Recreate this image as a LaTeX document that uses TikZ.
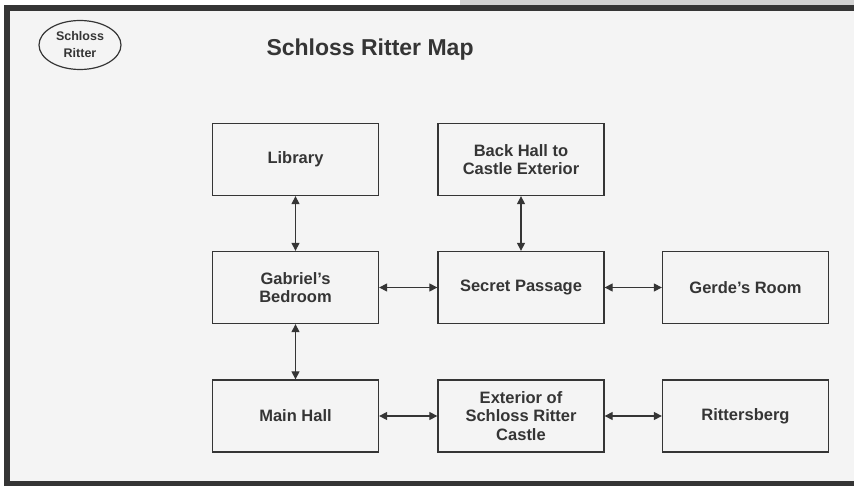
\documentclass[tikz,border=0pt]{standalone}
\usepackage{fontspec}
\setmainfont{Liberation Sans}
\usepackage{tikz}
\usetikzlibrary{shapes.geometric,arrows.meta}
\definecolor{ink}{HTML}{353535}
\definecolor{paper}{HTML}{F4F4F4}
\newcommand{\roomwd}{166pt}
\newcommand{\roomht}{72pt}

\begin{document}
\begin{tikzpicture}[x=1pt,y=-1pt,
    room/.style={draw=ink, line width=1.3pt, rectangle, minimum width=\roomwd, minimum height=\roomht,
      inner sep=0pt, align=center, text=ink, font=\fontsize{16.5}{18.5}\selectfont\bfseries},
    link/.style={draw=ink, line width=1.2pt, {Triangle[length=8pt,width=8pt]}-{Triangle[length=8pt,width=8pt]}}]

    \useasboundingbox (0,0) rectangle (854,486);
    \fill[white] (0,0) rectangle (854,486);
    \fill[gray!35] (460,0) rectangle (854,5);
    \fill[paper] (7,8) rectangle (854,484);
    \draw[ink, line width=6pt] (854,8) -- (7,8) -- (7,484) -- (854,484);

      \node (castle) at (80,45) [draw=ink, line width=1.2pt, ellipse, minimum width=82pt, minimum height=49pt,
        inner sep=0pt, align=center, text=ink, font=\fontsize{12.5}{17}\selectfont\bfseries] {Schloss\\Ritter};
      \node (title) at (263,56) [anchor=base west, text=ink, font=\fontsize{23}{26}\selectfont\bfseries] {Schloss Ritter Map};

      \node (lib)   at (295.5,159.5) [room] {Library};
      \node (back)  at (521,159.5)   [room] {Back Hall to\\Castle Exterior};
      \node (gab)   at (295.5,287.5) [room] {Gabriel's\\Bedroom};
      \node (sec)   at (521,287.5)   [room] {Secret Passage};
      \node (gerde) at (745.5,287.5) [room] {Gerde's Room};
      \node (main)  at (295.5,416)   [room] {Main Hall};
      \node (ext)   at (521,416)     [room] {Exterior of\\Schloss Ritter\\Castle};
      \node (ritt)  at (745.5,416)   [room] {Rittersberg};

      \draw[link] (lib) to (gab);
      \draw[link] (back) to (sec);
      \draw[link] (gab) to (sec);
      \draw[link] (sec) to (gerde);
      \draw[link] (gab) to (main);
      \draw[link] (main) to (ext);
      \draw[link] (ext) to (ritt);

  \end{tikzpicture}
\end{document}
